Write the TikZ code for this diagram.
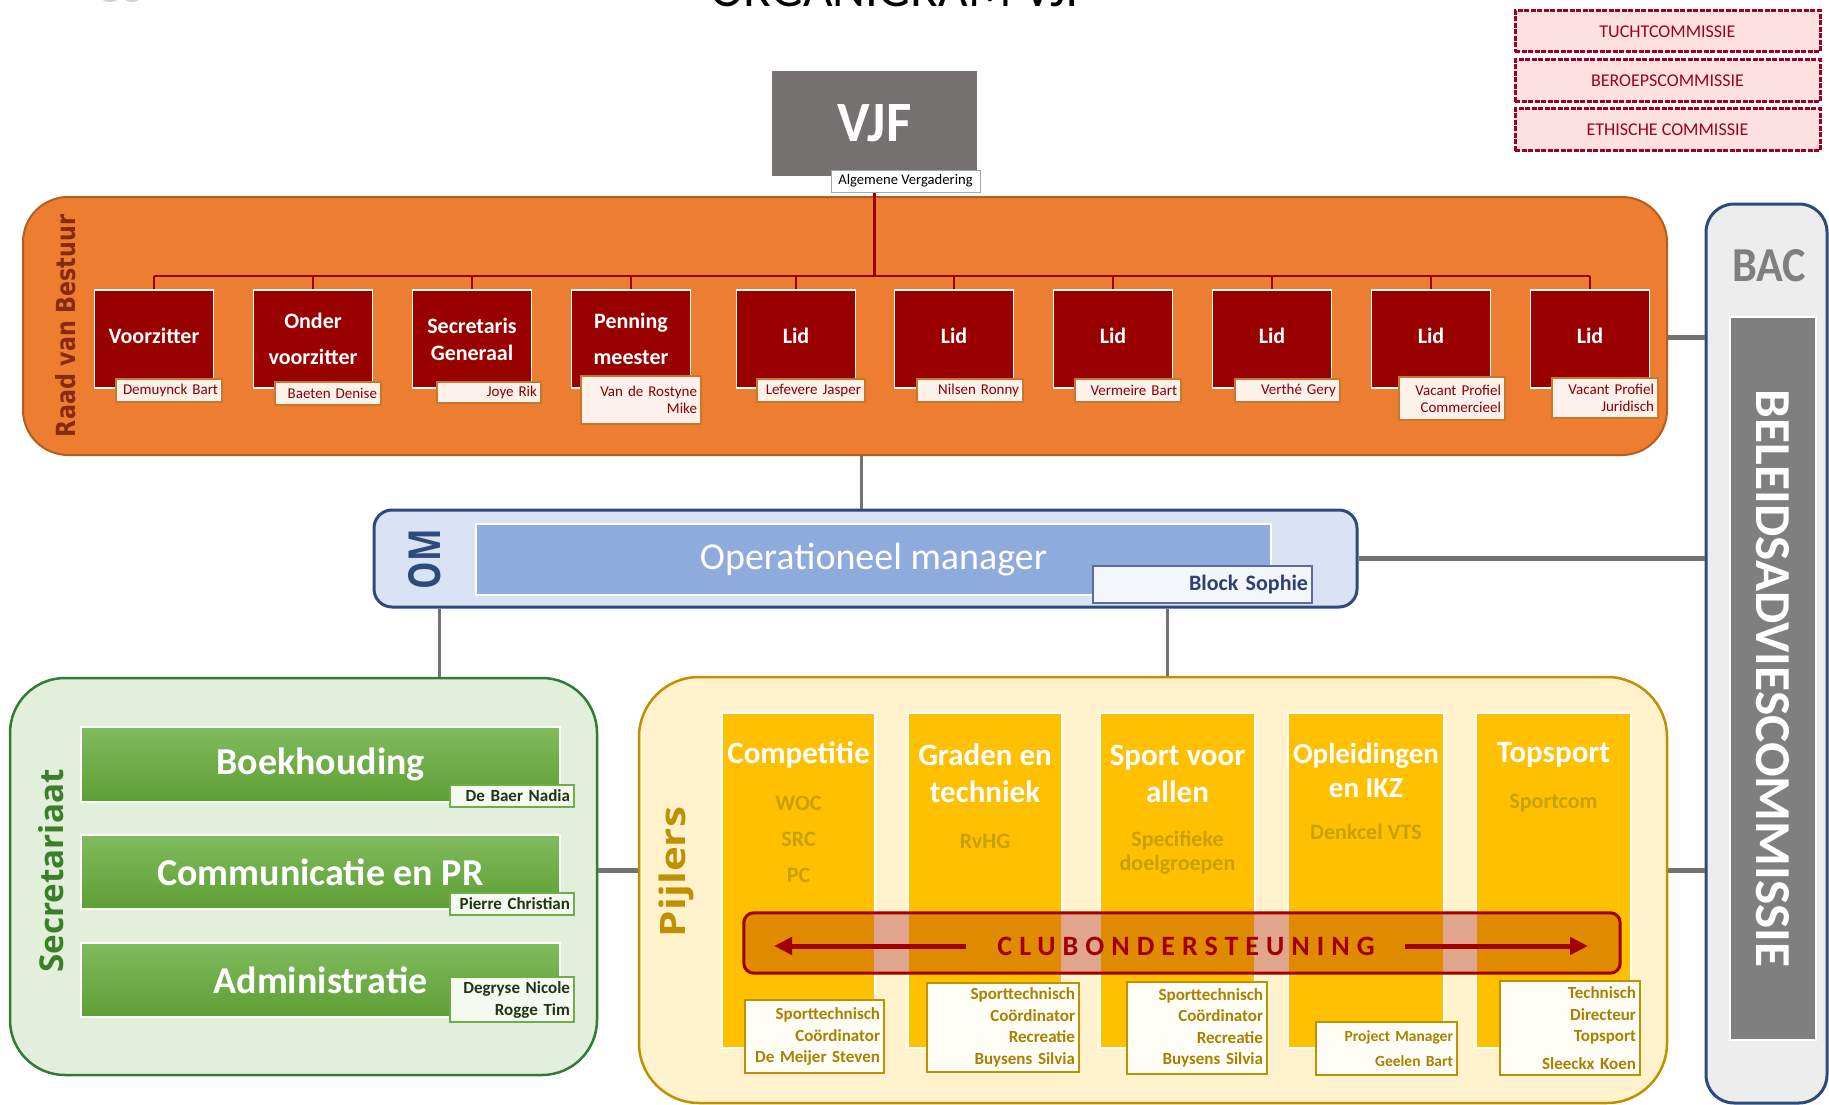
\documentclass[tikz,border=0pt]{standalone}
\usepackage{fontspec}
\setmainfont{Carlito}
\newfontfamily\osans{Open Sans}
\newfontfamily\djv{DejaVu Sans}
\newfontfamily\spaced[LetterSpace=25]{Carlito}
\usetikzlibrary{arrows.meta}
\definecolor{vjfgray}{HTML}{767171}
\definecolor{boardred}{HTML}{990000}
\definecolor{rvborange}{HTML}{ED7D31}
\definecolor{rvbborder}{HTML}{B55D1E}
\definecolor{rvbtext}{HTML}{8A2A0C}
\definecolor{rlabfill}{HTML}{FDF1EC}
\definecolor{rlabdraw}{HTML}{C8772E}
\definecolor{rlabtext}{HTML}{8B0000}
\definecolor{commfill}{HTML}{FDE1E1}
\definecolor{commdraw}{HTML}{A0001E}
\definecolor{omfill}{HTML}{DAE3F3}
\definecolor{omnavy}{HTML}{2E4A7D}
\definecolor{ominner}{HTML}{8FAADC}
\definecolor{bsfill}{HTML}{F3F6FB}
\definecolor{bstext}{HTML}{2F3F73}
\definecolor{bacfill}{HTML}{EDEDED}
\definecolor{belgray}{HTML}{7F7F7F}
\definecolor{secfill}{HTML}{E2EFDA}
\definecolor{secdraw}{HTML}{2F7D32}
\definecolor{sectext}{HTML}{3B7F2A}
\definecolor{gtop}{HTML}{80BB5D}
\definecolor{gbot}{HTML}{5E9F34}
\definecolor{glabfill}{HTML}{F5FAF1}
\definecolor{glabdraw}{HTML}{70AD47}
\definecolor{glabtext}{HTML}{1E3614}
\definecolor{pijfill}{HTML}{FFF2CC}
\definecolor{gold}{HTML}{BF9000}
\definecolor{colyellow}{HTML}{FFC000}
\definecolor{subgold}{HTML}{C8A000}
\definecolor{plabfill}{HTML}{FFFEF6}
\definecolor{plabtext}{HTML}{A98000}
\definecolor{barorange}{HTML}{E08A00}
\definecolor{barpink}{HTML}{E0A58C}
\definecolor{barred}{HTML}{A00000}

\newcommand\bnode[7]{%
  \pgfmathsetmacro\myW{#5-#3}\pgfmathsetmacro\myH{#6-#4}%
  \pgfmathsetmacro\myX{(#3+#5)/2}\pgfmathsetmacro\myY{(#4+#6)/2}%
  \node[inner sep=0pt,#1,minimum width=\myW pt,minimum height=\myH pt] (#2) at (\myX,\myY) {#7};}
\newcommand\lnode[7]{%
  \pgfmathsetmacro\myW{#5-#3}\pgfmathsetmacro\myH{#6-#4}%
  \pgfmathsetmacro\myT{#5-#3-8}%
  \pgfmathsetmacro\myX{(#3+#5)/2}\pgfmathsetmacro\myY{(#4+#6)/2}%
  \node[inner sep=0pt,inner xsep=4pt,align=right,text width=\myT pt,#1,minimum width=\myW pt,minimum height=\myH pt] (#2) at (\myX,\myY) {#7};}

\tikzset{
  gline/.style={draw=vjfgray,line width=3pt},
  gthick/.style={draw=vjfgray,line width=5pt},
  rline/.style={draw=boardred,line width=2.5pt},
  comm/.style={fill=commfill,draw=commdraw,line width=3pt,dash pattern=on 5pt off 1.5pt,text=commdraw,font=\fontsize{18}{20}\selectfont},
  bbox/.style={fill=boardred,draw=white,line width=1.5pt,text=white,align=center,minimum width=119pt,minimum height=98pt,inner sep=0pt,inner ysep=3pt},
  rlab/.style={fill=rlabfill,draw=rlabdraw,line width=1.2pt,text=rlabtext,font=\fontsize{15}{17}\selectfont},
  glab/.style={fill=glabfill,draw=glabdraw,line width=1.2pt,text=glabtext,font=\bfseries\fontsize{17}{22}\selectfont},
  gbar/.style={top color=gtop,bottom color=gbot,draw=white,line width=2pt,text=white,font=\bfseries\fontsize{38}{40}\selectfont},
  col/.style={fill=colyellow,draw=white,line width=2pt},
  ptitle/.style={text=white,align=center,font=\bfseries\fontsize{31}{37}\selectfont},
  psub/.style={text=subgold,align=center,font=\bfseries\fontsize{22}{36}\selectfont},
  plab/.style={fill=plabfill,draw=gold,line width=1.5pt,text=plabtext,font=\bfseries\fontsize{17}{21.5}\selectfont},
}

\begin{document}
\begin{tikzpicture}[x=1pt,y=-1pt]
\useasboundingbox (0,0) rectangle (1829,1105);
\clip (0,0) rectangle (1829,1105);

% title (cut off at the top edge, as in the reference) and logo remnant
\node[anchor=base,inner sep=0pt,font=\fontsize{51}{51}\selectfont] (title) at (900,7) {ORGANIGRAM VJF};
\fill[gray!35] (110,-4) ellipse (10pt and 6pt);
\fill[gray!35] (132,-4) ellipse (9pt and 6pt);

% ---- containers
\bnode{fill=rvborange,draw=rvbborder,line width=2pt,rounded corners=45pt}{rvb}{23}{197}{1667}{455}{}
\bnode{fill=omfill,draw=omnavy,line width=3pt,rounded corners=18pt}{om}{374}{510}{1357}{607}{}
\bnode{fill=secfill,draw=secdraw,line width=2.5pt,rounded corners=55pt}{sec}{10}{678}{597}{1075}{}
\bnode{fill=pijfill,draw=gold,line width=2.5pt,rounded corners=60pt}{pij}{639}{677}{1667}{1103}{}
\bnode{fill=bacfill,draw=omnavy,line width=3pt,rounded corners=28pt}{bac}{1706}{204}{1827}{1103}{}

% ---- gray connectors
\draw[gline] ([xshift=16pt]rvb.south) -- ([xshift=16pt]rvb.south |- om.north);
\draw[gline] ([xshift=67pt]om.south west) -- ([xshift=67pt]om.south west |- sec.north);
\draw[gline] ([xshift=795pt]om.south west) -- ([xshift=795pt]om.south west |- pij.north);
\draw[gthick] ([yshift=-11pt]rvb.east) -- ([yshift=-11pt]rvb.east -| bac.west);
\draw[gthick] (om.east) -- (om.east -| bac.west);
\draw[gthick] ([yshift=20pt]pij.east) -- ([yshift=20pt]pij.east -| bac.west);
\draw[gthick] ([yshift=6pt]sec.east) -- ([yshift=6pt]sec.east -| pij.west);

% ---- VJF
\bnode{fill=vjfgray,text=white}{vjf}{772}{71}{977}{176}{\resizebox{74pt}{37pt}{\bfseries VJF}}

% ---- commissions
\bnode{comm}{tucht}{1515}{11}{1820}{52}{TUCHTCOMMISSIE}
\bnode{comm}{beroeps}{1515}{60}{1820}{102}{BEROEPSCOMMISSIE}
\bnode{comm}{ethisch}{1515}{109}{1820}{151}{ETHISCHE COMMISSIE}

% ---- Raad van Bestuur
\node[rotate=90,inner sep=0pt,text=rvbtext] (rvblab) at (66,326) {\resizebox{222pt}{20pt}{\djv\bfseries Raad van Bestuur}};

\node[bbox,font=\bfseries\fontsize{22}{26}\selectfont] (b1) at (154,339) {\raisebox{6pt}{Voorzitter}};
\node[bbox,font=\bfseries\fontsize{22}{36}\selectfont] (b2) at (313,339) {Onder\\voorzitter};
\node[bbox,font=\bfseries\fontsize{22}{27}\selectfont] (b3) at (472,339) {Secretaris\\Generaal};
\node[bbox,font=\bfseries\fontsize{22}{36}\selectfont] (b4) at (631,339) {Penning\\meester};
\node[bbox,font=\bfseries\fontsize{22}{26}\selectfont] (b5) at (796,339) {\raisebox{6pt}{Lid}};
\node[bbox,font=\bfseries\fontsize{22}{26}\selectfont] (b6) at (954,339) {\raisebox{6pt}{Lid}};
\node[bbox,font=\bfseries\fontsize{22}{26}\selectfont] (b7) at (1113,339) {\raisebox{6pt}{Lid}};
\node[bbox,font=\bfseries\fontsize{22}{26}\selectfont] (b8) at (1272,339) {\raisebox{6pt}{Lid}};
\node[bbox,font=\bfseries\fontsize{22}{26}\selectfont] (b9) at (1431,339) {\raisebox{6pt}{Lid}};
\node[bbox,font=\bfseries\fontsize{22}{26}\selectfont] (b10) at (1590,339) {\raisebox{6pt}{Lid}};

\coordinate (bus) at (874,276);
\draw[rline] (vjf.south) -- (vjf.south |- bus);
\draw[rline] (b1.north |- bus) -- (b10.north |- bus);
\foreach \i in {1,...,10} \draw[rline] (b\i.north) -- (b\i.north |- bus);

\bnode{fill=white,draw=gray!70,line width=0.8pt,font=\fontsize{14.6}{16}\selectfont}{av}{831}{170}{980}{192}{Algemene Vergadering}

\lnode{rlab}{n1}{116}{379}{222}{402}{Demuynck Bart}
\lnode{rlab}{n2}{275}{382}{381}{405}{Baeten Denise}
\lnode{rlab}{n3}{437}{382}{541}{403}{Joye Rik}
\lnode{rlab}{n4}{581}{376}{701}{424}{Van de Rostyne\\Mike}
\lnode{rlab}{n5}{757}{379}{865}{402}{Lefevere Jasper}
\lnode{rlab}{n6}{917}{379}{1023}{402}{Nilsen Ronny}
\lnode{rlab}{n7}{1075}{379}{1181}{402}{Vermeire Bart}
\lnode{rlab}{n8}{1235}{379}{1340}{402}{Verthé Gery}
\lnode{rlab}{n9}{1399}{377}{1505}{420}{Vacant Profiel\\Commercieel}
\lnode{rlab}{n10}{1552}{378}{1658}{418}{Vacant Profiel\\Juridisch}

% ---- OM
\node[rotate=90,inner sep=0pt,text=omnavy] (omlab) at (425,559) {\resizebox{60pt}{32pt}{\osans\bfseries OM}};
\bnode{fill=ominner,draw=white,line width=2pt,text=white,font=\fontsize{38}{40}\selectfont}{omm}{476}{524}{1271}{595}{Operationeel manager}
\lnode{fill=bsfill,draw=omnavy!80,line width=1.2pt,text=bstext,font=\bfseries\fontsize{22}{24}\selectfont}{bs}{1093}{566}{1312}{603}{Block Sophie}

% ---- BAC
\node[text=belgray,inner sep=0pt] (baclab) at (1769,266) {\resizebox{74pt}{32pt}{\bfseries BAC}};
\bnode{fill=belgray,draw=white,line width=2pt}{bel}{1730}{317}{1816}{1040}{}
\node[rotate=-90,inner sep=0pt,text=white] (bellab) at (bel.center) {\resizebox{577pt}{33pt}{\bfseries BELEIDSADVIESCOMMISSIE}};

% ---- Secretariaat
\node[rotate=90,inner sep=0pt,text=sectext] (seclab) at (51,871) {\resizebox{203pt}{25pt}{\osans\bfseries Secretariaat}};
\bnode{gbar}{boek}{81}{727}{560}{802}{Boekhouding}
\bnode{gbar}{commpr}{81}{835}{560}{909}{Communicatie en PR}
\bnode{gbar}{adm}{81}{943}{560}{1017}{Administratie}
\lnode{glab}{g1}{450}{785}{574}{807}{De Baer Nadia}
\lnode{glab}{g2}{450}{893}{574}{915}{Pierre Christian}
\lnode{glab}{g3}{450}{977}{574}{1022}{Degryse Nicole\\Rogge Tim}

% ---- Pijlers
\node[rotate=90,inner sep=0pt,text=gold] (pijlab) at (676,872) {\resizebox*{130pt}{35pt}{\osans\bfseries Pijlers}};
\bnode{col}{c1}{722}{713}{875}{1048}{}
\bnode{col}{c2}{908}{713}{1062}{1048}{}
\bnode{col}{c3}{1100}{713}{1255}{1048}{}
\bnode{col}{c4}{1288}{713}{1444}{1048}{}
\bnode{col}{c5}{1476}{713}{1631}{1048}{}

\node[ptitle] (t1) at (798.5,755) {Competitie};
\node[ptitle] (t2) at (985,773.5) {Graden en\\techniek};
\node[ptitle] (t3) at (1177.5,773.5) {Sport voor\\allen};
\node[ptitle,font=\bfseries\fontsize{29}{34}\selectfont] (t4) at (1366,770) {Opleidingen\\en IKZ};
\node[ptitle] (t5) at (1553.5,755) {Topsport};

\node[psub] (s1) at (798.5,839) {WOC\\SRC\\PC};
\node[psub] (s2) at (985,841) {RvHG};
\node[psub,font=\bfseries\fontsize{22}{24}\selectfont] (s3) at (1177.5,853) {Specifieke\\doelgroepen};
\node[psub] (s4) at (1366,832) {Denkcel VTS};
\node[psub] (s5) at (1553.5,803) {Sportcom};

% ---- Clubondersteuning bar
\bnode{fill=barorange,rounded corners=10pt}{club}{744}{913}{1620}{973}{}
\begin{scope}
  \clip[rounded corners=10pt] (club.south west) rectangle (club.north east);
  \fill[barpink] (874,900) rectangle (909,990);
  \fill[barpink] (1061,900) rectangle (1101,990);
  \fill[barpink] (1254,900) rectangle (1289,990);
  \fill[barpink] (1443,900) rectangle (1477,990);
\end{scope}
\draw[barred,line width=3pt,rounded corners=10pt] (club.south west) rectangle (club.north east);
\node[text=barred,inner sep=0pt,font=\spaced\bfseries\fontsize{28}{30}\selectfont] (clubtxt) at (1186,946) {CLUBONDERSTEUNING};
\coordinate (al0) at (966,946);
\coordinate (al1) at (774,946);
\coordinate (ar0) at (1405,946);
\coordinate (ar1) at (1588,946);
\draw[barred,line width=5pt,-{Triangle[length=18pt,width=17pt]}] (al0) -- (al1);
\draw[barred,line width=5pt,-{Triangle[length=18pt,width=17pt]}] (ar0) -- (ar1);

% ---- pillar name labels
\lnode{plab}{p1}{745}{1000}{884}{1073}{Sporttechnisch\\Coördinator\\De Meijer Steven}
\lnode{plab}{p2}{927}{983}{1079}{1072}{Sporttechnisch\\Coördinator\\Recreatie\\Buysens Silvia}
\lnode{plab}{p3}{1127}{982}{1267}{1074}{Sporttechnisch\\Coördinator\\Recreatie\\Buysens Silvia}
\lnode{plab,font=\bfseries\fontsize{15.5}{25}\selectfont}{p4}{1316}{1022}{1457}{1075}{Project Manager\\Geelen Bart}
\lnode{plab}{p5}{1500}{981}{1640}{1075}{Technisch\\Directeur\\Topsport\\[6pt]Sleeckx Koen}

\end{tikzpicture}
\end{document}
